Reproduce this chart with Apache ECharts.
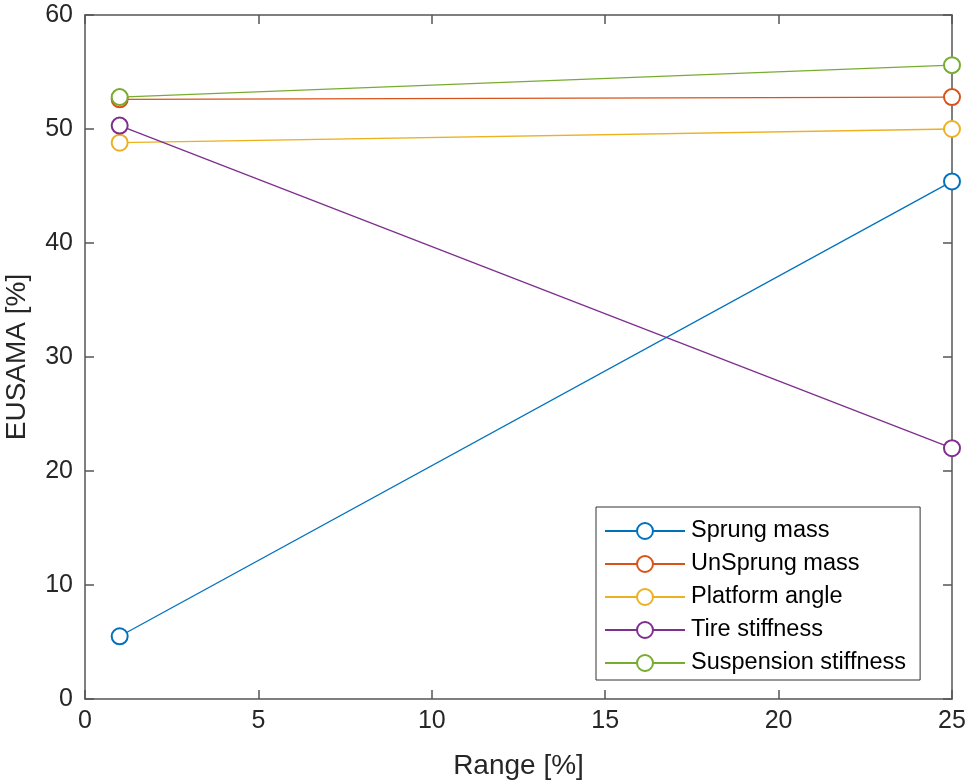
<!DOCTYPE html>
<html>
<head>
<meta charset="utf-8">
<script src="https://cdn.jsdelivr.net/npm/echarts@6/dist/echarts.min.js"></script>
<style>
html,body{margin:0;padding:0;background:#fff;}
#chart{width:969px;height:784px;}
</style>
</head>
<body>
<div id="chart"></div>
<script>
// Range values [%]
const ranges = [1, 25];
// EUSAMA [%] per parameter
const sprungMass = [5.5, 45.4];
const unsprungMass = [52.6, 52.8];
const platformAngle = [48.8, 50.0];
const tireStiffness = [50.3, 22.0];
const suspensionStiffness = [52.8, 55.6];

const seriesNames = ['Sprung mass', 'UnSprung mass', 'Platform angle', 'Tire stiffness', 'Suspension stiffness'];
const seriesValues = [sprungMass, unsprungMass, platformAngle, tireStiffness, suspensionStiffness];
const colors = ['#0072BD', '#D95319', '#EDB120', '#7E2F8E', '#77AC30'];

const font = 'Liberation Sans, Arial, Helvetica, sans-serif';
const axisColor = '#555555';
const textColor = '#262626';

const chart = echarts.init(document.getElementById('chart'));

const series = seriesNames.map((name, i) => ({
  name: name,
  type: 'line',
  data: ranges.map((x, j) => [x, seriesValues[i][j]]),
  symbol: 'emptyCircle',
  symbolSize: 16,
  showAllSymbol: true,
  lineStyle: { color: colors[i], width: 1.3 },
  itemStyle: { color: colors[i], borderColor: colors[i], borderWidth: 2 },
  emphasis: { disabled: true },
  z: 2 + i
}));

function axisLine() {
  return { show: true, onZero: false, lineStyle: { color: axisColor, width: 1.5 } };
}
function ticks() {
  return { show: true, inside: true, length: 9, lineStyle: { color: axisColor, width: 1.5 } };
}

chart.setOption({
  backgroundColor: '#ffffff',
  animation: false,
  color: colors,
  grid: { left: 85, right: 17, top: 15, bottom: 85, containLabel: false, outerBoundsMode: 'none' },
  legend: {
    orient: 'vertical',
    left: 596,
    top: 507,
    padding: [12, 14, 5, 8],
    itemWidth: 80,
    itemHeight: 20,
    itemGap: 9,
    borderColor: '#333333',
    borderWidth: 1,
    backgroundColor: '#ffffff',
    textStyle: { fontFamily: font, fontSize: 23.5, lineHeight: 20, color: '#000000', padding: [0, 0, 0, 1] },
    data: seriesNames
  },
  xAxis: [
    {
      type: 'value', min: 0, max: 25, interval: 5,
      name: 'Range [%]', nameLocation: 'middle', nameGap: 53,
      nameTextStyle: { fontFamily: font, fontSize: 28, color: textColor },
      axisLine: axisLine(),
      axisTick: ticks(),
      axisLabel: { fontFamily: font, fontSize: 25, color: textColor, margin: 10 },
      splitLine: { show: false }
    },
    {
      type: 'value', position: 'top', min: 0, max: 25, interval: 5,
      axisLine: axisLine(),
      axisTick: ticks(),
      axisLabel: { show: false },
      splitLine: { show: false }
    }
  ],
  yAxis: [
    {
      type: 'value', min: 0, max: 60, interval: 10,
      name: 'EUSAMA [%]', nameLocation: 'middle', nameGap: 54, nameRotate: 90,
      nameTextStyle: { fontFamily: font, fontSize: 28, color: textColor },
      axisLine: axisLine(),
      axisTick: ticks(),
      axisLabel: { fontFamily: font, fontSize: 25, color: textColor, margin: 12 },
      splitLine: { show: false }
    },
    {
      type: 'value', position: 'right', min: 0, max: 60, interval: 10,
      axisLine: axisLine(),
      axisTick: ticks(),
      axisLabel: { show: false },
      splitLine: { show: false }
    }
  ],
  series: series
});
</script>
</body>
</html>
